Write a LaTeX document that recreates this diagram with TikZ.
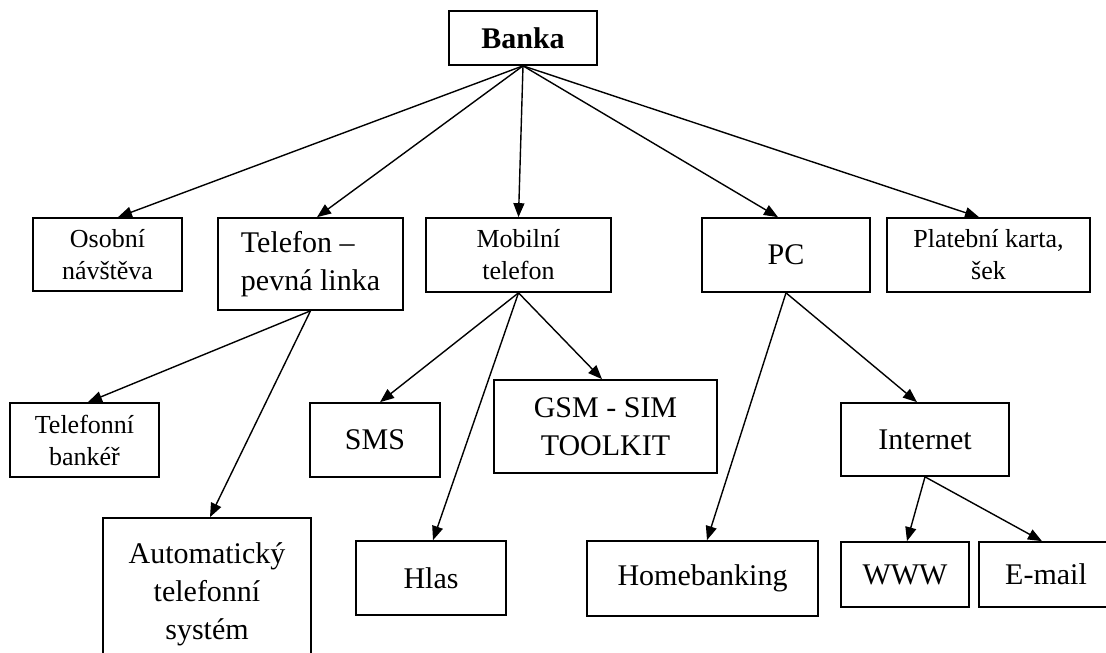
\documentclass[tikz,border=0pt]{standalone}
\usepackage{fontspec}
\setmainfont{Liberation Serif}
\usetikzlibrary{arrows.meta}

\begin{document}
\begin{tikzpicture}[
  x=1pt, y=-1pt,
  box/.style={draw, line width=1.7pt, inner sep=0pt, align=center,
    font=\fontsize{30}{38}\selectfont},
  smallbox/.style={box, font=\fontsize{26}{32}\selectfont},
  arr/.style={line width=1.4pt, -{Triangle[length=14pt,width=11pt]}}
]
  \path[fill=white, use as bounding box] (0,0) rectangle (1106,653);
  \clip (0,0) rectangle (1106,653);
  % top
  \node[box, minimum width=148pt, minimum height=54pt, font=\fontsize{30}{38}\selectfont\bfseries]
    (banka) at (523,38) {Banka};
  % second row
  \node[smallbox, minimum width=149pt, minimum height=73pt] (osobni) at (107.5,254.5) {Osobní\\návštěva};
  \node[box, minimum width=185pt, minimum height=92pt, align=left] (telefon) at (310.5,264) {Telefon --\\pevná linka};
  \node[smallbox, minimum width=185pt, minimum height=74pt] (mobil) at (518.5,255) {Mobilní\\telefon};
  \node[box, minimum width=168pt, minimum height=74pt] (pc) at (786,255) {PC};
  \node[smallbox, minimum width=203pt, minimum height=74pt] (karta) at (988.5,255) {Platební karta,\\šek};
  % third row
  \node[smallbox, minimum width=149pt, minimum height=74pt] (bankar) at (84.5,440) {Telefonní\\bankéř};
  \node[box, minimum width=130pt, minimum height=74pt] (sms) at (375,440) {SMS};
  \node[box, minimum width=223pt, minimum height=93pt] (gsm) at (605.5,426.5) {GSM - SIM\\TOOLKIT};
  \node[box, minimum width=168pt, minimum height=73pt] (internet) at (925,439.5) {Internet};
  % bottom row
  \node[box, minimum width=208pt, minimum height=152pt] (automat) at (207,594) {Automatický\\telefonní\\systém};
  \node[box, minimum width=150pt, minimum height=74pt] (hlas) at (431,578) {Hlas};
  \node[box, minimum width=231pt, minimum height=75pt] (homebank) at (702.5,578.5) {Homebanking};
  \node[box, minimum width=128pt, minimum height=65pt] (www) at (905,574.5) {WWW};
  \node[box, minimum width=134pt, minimum height=65pt] (email) at (1046,574.5) {E-mail};

  \draw[arr] (banka.south) -- ([xshift=10.5pt]osobni.north);
  \draw[arr] (banka.south) -- ([xshift=6.5pt]telefon.north);
  \draw[arr] (banka.south) -- (mobil.north);
  \draw[arr] (banka.south) -- ([xshift=-8pt]pc.north);
  \draw[arr] (banka.south) -- ([xshift=-9.5pt]karta.north);

  \draw[arr] (telefon.south) -- ([xshift=3.5pt]bankar.north);
  \draw[arr] (telefon.south) -- ([xshift=3pt]automat.north);

  \draw[arr] (mobil.south) -- ([xshift=5pt]sms.north);
  \draw[arr] (mobil.south) -- ([xshift=2pt]hlas.north);
  \draw[arr] (mobil.south) -- ([xshift=-3.5pt]gsm.north);

  \draw[arr] (pc.south) -- ([xshift=4.5pt]homebank.north);
  \draw[arr] (pc.south) -- ([xshift=-8pt]internet.north);

  \draw[arr] (internet.south) -- ([xshift=2pt]www.north);
  \draw[arr] (internet.south) -- ([xshift=-4pt]email.north);
\end{tikzpicture}
\end{document}
